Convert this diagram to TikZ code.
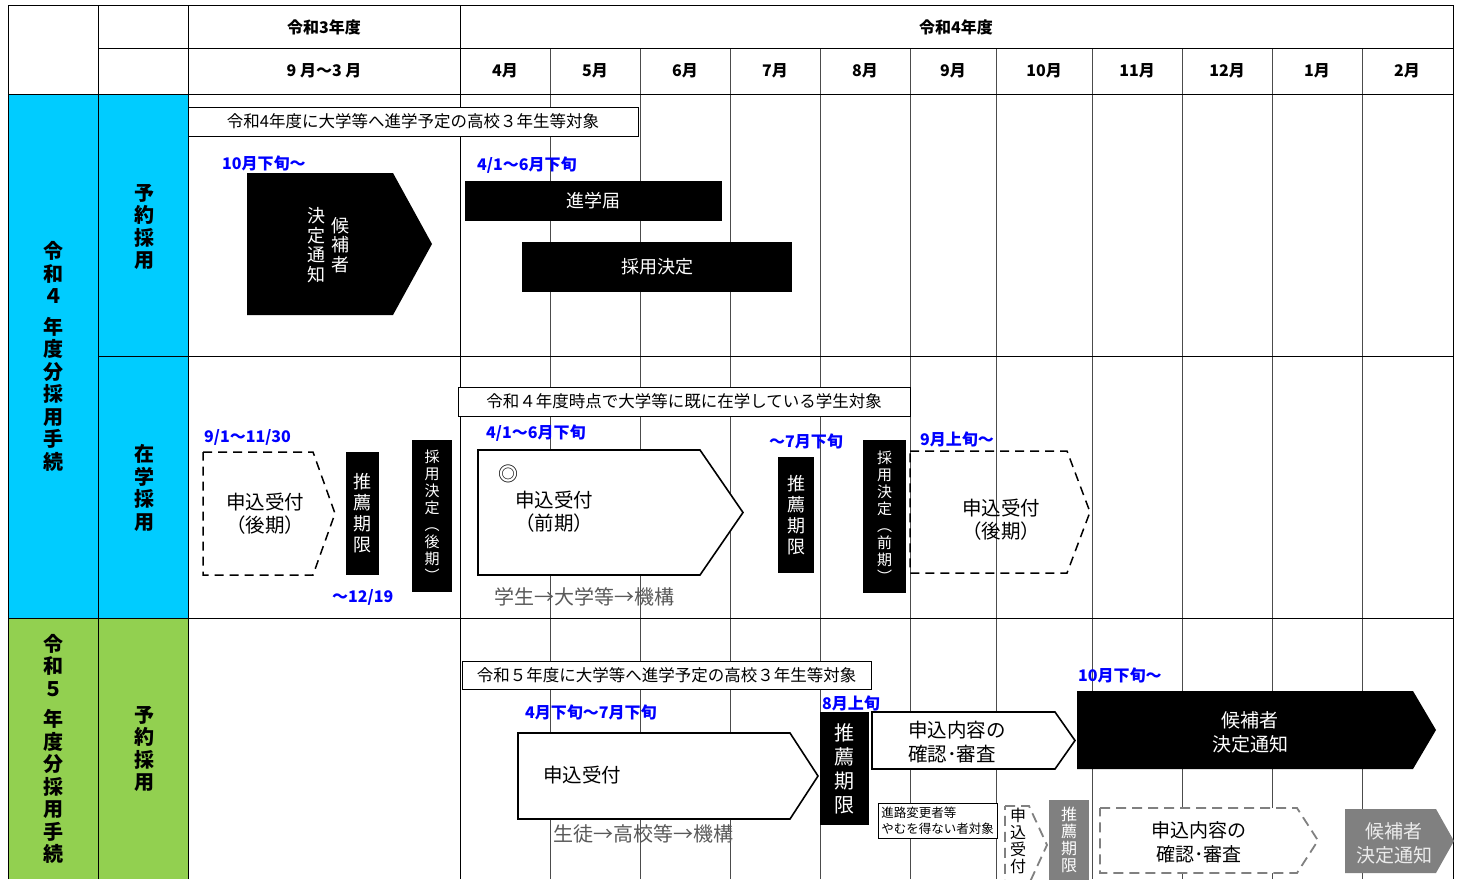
\documentclass[tikz,border=0pt]{standalone}
\usepackage{fontspec}
\setmainfont{Noto Sans CJK JP}
\usepackage{xcolor}
\usepackage{tikz}
\usetikzlibrary{calc}
\colorlet{plan-blue}{blue}
\definecolor{row-cyan}{HTML}{00CCFF}
\definecolor{row-green}{HTML}{92D050}
\definecolor{mark-gray}{HTML}{808080}
\definecolor{route-gray}{HTML}{595959}
\newcommand\fsz[2]{\fontsize{#1}{#2}\selectfont}
\tikzset{
    grid line/.style = {black!70, line width=0.8pt},
    frame line/.style = {black, line width=1pt},
    head/.style = {font=\bfseries\fsz{16}{18}, inner sep=0pt},
    side/.style = {font=\bfseries\fsz{20}{22.5}, align=center, inner sep=0pt},
    when/.style = {text=plan-blue, font=\bfseries\fsz{16}{18}, anchor=west, inner sep=0pt},
    target/.style = {draw=black, fill=white, line width=0.8pt, inner sep=0pt, font=\fsz{16.5}{18}},
    bar/.style = {fill=black, text=white, inner sep=0pt, align=center, font=\fsz{18}{21}},
    gray bar/.style = {bar, fill=mark-gray},
    note/.style = {inner sep=0pt, align=left, anchor=west, font=\fsz{19.5}{23}},
    route/.style = {text=route-gray, inner sep=0pt, anchor=west, font=\fsz{20}{22}},
    solid tag/.style = {draw=black, fill=white, line width=1.6pt},
    dash tag/.style = {draw=black, line width=1.5pt, dash pattern=on 9pt off 6pt},
    gray dash tag/.style = {draw=mark-gray, fill=white, line width=1.8pt, dash pattern=on 10pt off 6pt},
    pics/tag/.style n args = {3}{
        code = {%
        \path[pic actions] (0,0) coordinate (-nw)
            -- (#1,0)
            -- (#2,#3/2) coordinate (-tip)
            -- (#1,#3)
            -- (0,#3) coordinate (-sw)
            -- cycle;
        }
    },
}

\begin{document}
\begin{tikzpicture}[x=1pt,y=-1pt]
    \useasboundingbox (0,0) rectangle (1464,879);
    \clip (0,0) rectangle (1464,879);

    \fill[row-cyan] (8,94) rectangle (188,618);
    \fill[row-green] (8,618) rectangle (188,879);

    \foreach \x in {550,640,730,820,910,996,1092,1182,1272,1362}
        \draw[grid line] (\x,48) -- (\x,879);
    \draw[frame line] (8,5) -- (1453,5);
    \draw[frame line] (98,48) -- (1453,48);
    \draw[frame line] (8,94) -- (1453,94);
    \draw[frame line] (98,356) -- (1453,356);
    \draw[frame line] (8,618) -- (1453,618);
    \foreach \x in {8,98,188,460,1453}
        \draw[frame line] (\x,5) -- (\x,879);

    \node[head] (fy3) at (324,27) {令和3年度};
    \node[head] (fy4) at (956,27) {令和4年度};
    \node[head] (span3) at (324,71) {9 月～3 月};
    \foreach \x/\m [count=\i] in {505/4月, 595/5月, 685/6月, 775/7月, 865/8月, 953/9月, 1044/10月, 1137/11月, 1227/12月, 1317/1月, 1407/2月}
        \node[head] (month\i) at (\x,71) {\m};

    \node[side] (proc4) at (53,356.5) {令\\和\\４\\[8pt]年\\度\\分\\採\\用\\手\\続};
    \node[side] (proc5) at (53,749) {令\\和\\５\\[8pt]年\\度\\分\\採\\用\\手\\続};
    \node[side] (reserve4) at (144,227) {予\\約\\採\\用};
    \node[side] (enrolled4) at (144,488) {在\\学\\採\\用};
    \node[side] (reserve5) at (144,749) {予\\約\\採\\用};

    % reservation, R4
    \node[target, minimum width=450, minimum height=29] (aim1) at (413,121.5) {令和4年度に大学等へ進学予定の高校３年生等対象};
    \node[when] (when1) at (222,163) {10月下旬～};
    \pic[fill=black] (cand1) at (247,173) {tag={146}{185}{142}};
    \node[bar, fill=none, font=\fsz{18}{19.5}] (cand1a) at (340,245) {候\\補\\者};
    \node[bar, fill=none, font=\fsz{18}{19.5}] (cand1b) at (316,245) {決\\定\\通\\知};
    \node[when] (when2) at (477,165) {4/1～6月下旬};
    \node[bar, minimum width=257, minimum height=40] (notice) at (593.5,201) {進学届};
    \node[bar, minimum width=270, minimum height=50] (decide) at (657,267) {採用決定};

    % enrolled, R4
    \node[target, minimum width=452, minimum height=29] (aim2) at (684,401.5) {令和４年度時点で大学等に既に在学している学生対象};
    \node[when] (when3) at (204,437) {9/1～11/30};
    \pic[dash tag] (late1) at (203,452) {tag={110}{132}{123}};
    \node[note] (late1t) at (226,514) {申込受付\\（後期）};
    \node[bar, minimum width=33, minimum height=123] (limit1) at (362.5,513.5) {推\\薦\\期\\限};
    \node[when] (when4) at (332,597) {～12/19};
    \node[bar, minimum width=40, minimum height=152, font=\fsz{15}{17}] (decide1) at (432,516) {採\\用\\決\\定\\︵\\後\\期\\︶};
    \node[when] (when5) at (486,433) {4/1～6月下旬};
    \pic[solid tag] (early) at (478,450) {tag={222}{265}{125}};
    \node[inner sep=0pt, font=\fsz{20}{22}] (mark) at (508,474) {◎};
    \node[note] (earlyt) at (515,512) {申込受付\\（前期）};
    \node[route] (route1) at (494,597) {学生→大学等→機構};
    \node[when] (when6) at (769,441) {～7月下旬};
    \node[bar, minimum width=36, minimum height=116] (limit2) at (796,515) {推\\薦\\期\\限};
    \node[bar, minimum width=43, minimum height=153, font=\fsz{15}{17}] (decide2) at (884.5,516.5) {採\\用\\決\\定\\︵\\前\\期\\︶};
    \node[when] (when7) at (920,439) {9月上旬～};
    \pic[dash tag] (late2) at (910,451) {tag={157}{180}{122}};
    \node[note] (late2t) at (962,520) {申込受付\\（後期）};

    % reservation, R5
    \node[target, minimum width=409, minimum height=28] (aim3) at (666.5,675) {令和５年度に大学等へ進学予定の高校３年生等対象};
    \node[when] (when8) at (525,712) {4月下旬～7月下旬};
    \pic[solid tag] (apply) at (518,733) {tag={272}{300}{86}};
    \node[note] (applyt) at (543,775) {申込受付};
    \node[route] (route2) at (553,834) {生徒→高校等→機構};
    \node[when] (when9) at (822,703) {8月上旬};
    \node[bar, minimum width=49, minimum height=113, font=\fsz{20}{24}] (limit3) at (844.5,768.5) {推\\薦\\期\\限};
    \pic[solid tag] (check1) at (872,712) {tag={183}{203}{57}};
    \node[note, font=\fsz{19.5}{24}] (check1t) at (908,742) {申込内容の\\確認･審査};
    \node[target, minimum width=119, minimum height=35, align=left, font=\fsz{12.5}{15.5}] (extra) at (937.5,820.5) {進路変更者等\\やむを得ない者対象};
    \pic[gray dash tag] (apply2) at (1005,806) {tag={24}{42}{78}};
    \node[inner sep=0pt, align=center, font=\fsz{16}{17}] (apply2t) at (1018,841) {申\\込\\受\\付};
    \node[gray bar, minimum width=40, minimum height=80, font=\fsz{16}{17}] (limit4) at (1069,840) {推\\薦\\期\\限};
    \node[when] (when10) at (1078,675) {10月下旬～};
    \pic[fill=black] (cand2) at (1077,691) {tag={336}{359}{78}};
    \node[bar, fill=none, font=\fsz{19}{24}] (cand2t) at (1250,732) {候補者\\決定通知};
    \pic[gray dash tag] (check2) at (1100,808) {tag={197}{218}{65}};
    \node[inner sep=0pt, align=center, font=\fsz{19}{24}] (check2t) at (1199,842) {申込内容の\\確認･審査};
    \pic[fill=mark-gray] (cand3) at (1345,809) {tag={91}{109}{64}};
    \node[bar, fill=none, text=white!92!black, font=\fsz{19}{24}] (cand3t) at (1394,843) {候補者\\決定通知};
\end{tikzpicture}
\end{document}
